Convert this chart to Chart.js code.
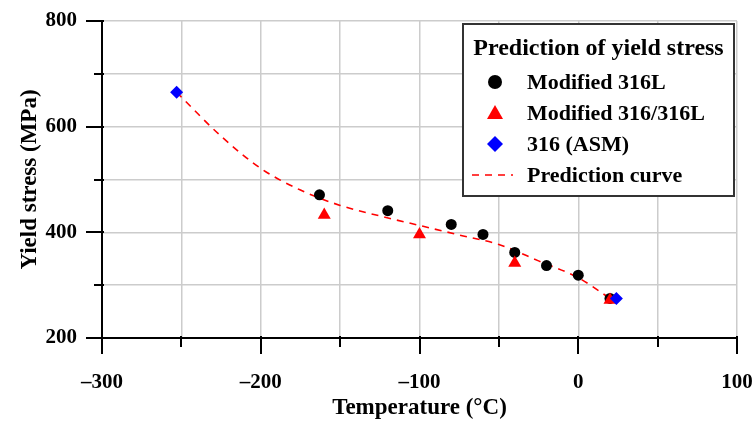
<!DOCTYPE html>
<html>
<head>
<meta charset="utf-8">
<script src="https://cdn.jsdelivr.net/npm/chart.js@4"></script>
<style>
  html, body { margin: 0; padding: 0; background: #fff; }
  #wrap { width: 754px; height: 423px; }
</style>
</head>
<body>
<div id="wrap"><canvas id="yieldChart" width="754" height="423"></canvas></div>
<script>
// Yield stress vs temperature
const mod316LTemp = [-163, -120, -80, -60, -40, -20, 0, 20];
const mod316LStress = [471, 441, 415, 396, 362, 337, 319, 275];

const mod316Temp = [-160, -100, -40, 20];
const mod316Stress = [433, 396, 342, 272];

const asmTemp = [-253, 24];
const asmStress = [665, 275];

const curveTemp = [-253, -225, -200, -175, -150, -125, -100, -75, -50, -25, 0, 20];
const curveStress = [665, 582, 521, 480, 451, 431, 413, 395, 377, 346, 314, 275];

const xTickLabels = [-300, -200, -100, 0, 100];
const yTickLabels = [200, 400, 600, 800];

const FONT = "'Liberation Serif', 'DejaVu Serif', serif";

function toPoints(xs, ys) {
    return xs.map((v, i) => ({ x: v, y: ys[i] }));
}

// draws the major/minor tick marks on the outside of the left and bottom axes
const axisTicks = {
    id: 'axisTicks',
    afterDraw(chart) {
        const { ctx, chartArea } = chart;
        const xs = chart.scales.x;
        const ys = chart.scales.y;
        ctx.save();
        ctx.strokeStyle = '#000';
        ctx.lineWidth = 2;
        xs.ticks.forEach(t => {
            const px = Math.round(xs.getPixelForValue(t.value));
            const len = xTickLabels.includes(t.value) ? 16 : 9;
            ctx.beginPath();
            ctx.moveTo(px, chartArea.bottom - 2);
            ctx.lineTo(px, chartArea.bottom + len);
            ctx.stroke();
        });
        ys.ticks.forEach(t => {
            const py = Math.round(ys.getPixelForValue(t.value));
            const len = yTickLabels.includes(t.value) ? 16 : 8;
            ctx.beginPath();
            ctx.moveTo(chartArea.left + 2, py);
            ctx.lineTo(chartArea.left - len, py);
            ctx.stroke();
        });
        ctx.restore();
    }
};

// legend box in the top right corner of the plot
const boxLegend = {
    id: 'boxLegend',
    afterDraw(chart) {
        const { ctx, chartArea } = chart;
        const w = 271, h = 172;
        const left = chartArea.right - w - 3;
        const top = chartArea.top + 3;
        ctx.save();
        ctx.fillStyle = '#fff';
        ctx.fillRect(left, top, w, h);
        ctx.strokeStyle = '#333';
        ctx.lineWidth = 2;
        ctx.strokeRect(left, top, w, h);

        ctx.fillStyle = '#000';
        ctx.font = 'bold 24px ' + FONT;
        ctx.textAlign = 'center';
        ctx.textBaseline = 'alphabetic';
        ctx.fillText('Prediction of yield stress', left + w / 2, top + 31);

        const items = [
            { label: 'Modified 316L', kind: 'circle' },
            { label: 'Modified 316/316L', kind: 'triangle' },
            { label: '316 (ASM)', kind: 'diamond' },
            { label: 'Prediction curve', kind: 'line' }
        ];
        const mx = left + 32;
        const tx = left + 64;
        ctx.font = 'bold 22px ' + FONT;
        ctx.textAlign = 'left';
        items.forEach((it, i) => {
            const cy = top + 58 + i * 31;
            if (it.kind === 'circle') {
                ctx.fillStyle = '#000';
                ctx.beginPath();
                ctx.arc(mx, cy, 7, 0, Math.PI * 2);
                ctx.fill();
            } else if (it.kind === 'triangle') {
                ctx.fillStyle = '#ff0000';
                ctx.beginPath();
                ctx.moveTo(mx, cy - 8);
                ctx.lineTo(mx + 8, cy + 6);
                ctx.lineTo(mx - 8, cy + 6);
                ctx.closePath();
                ctx.fill();
            } else if (it.kind === 'diamond') {
                ctx.fillStyle = '#0000ff';
                ctx.beginPath();
                ctx.moveTo(mx, cy - 8);
                ctx.lineTo(mx + 8, cy);
                ctx.lineTo(mx, cy + 8);
                ctx.lineTo(mx - 8, cy);
                ctx.closePath();
                ctx.fill();
            } else {
                ctx.strokeStyle = '#ff0000';
                ctx.lineWidth = 1.5;
                ctx.setLineDash([7, 6]);
                ctx.beginPath();
                ctx.moveTo(mx - 23, cy);
                ctx.lineTo(mx + 18, cy);
                ctx.stroke();
                ctx.setLineDash([]);
            }
            ctx.fillStyle = '#000';
            ctx.fillText(it.label, tx, cy + 7);
        });
        ctx.restore();
    }
};

const ctx = document.getElementById('yieldChart');
new Chart(ctx, {
    type: 'scatter',
    data: {
        datasets: [
            {
                label: '316 (ASM)',
                data: toPoints(asmTemp, asmStress),
                pointStyle: 'rectRot',
                pointRadius: 6.5,
                backgroundColor: '#0000ff',
                borderColor: '#0000ff',
                borderWidth: 0,
                order: 1
            },
            {
                label: 'Modified 316/316L',
                data: toPoints(mod316Temp, mod316Stress),
                pointStyle: 'triangle',
                pointRadius: 7.5,
                backgroundColor: '#ff0000',
                borderColor: '#ff0000',
                borderWidth: 0,
                order: 2
            },
            {
                label: 'Modified 316L',
                data: toPoints(mod316LTemp, mod316LStress),
                pointStyle: 'circle',
                pointRadius: 5.5,
                backgroundColor: '#000',
                borderColor: '#000',
                borderWidth: 0,
                order: 3
            },
            {
                type: 'line',
                label: 'Prediction curve',
                data: toPoints(curveTemp, curveStress),
                borderColor: '#ff0000',
                borderWidth: 1.6,
                borderDash: [7, 6],
                pointRadius: 0,
                fill: false,
                cubicInterpolationMode: 'monotone',
                order: 4
            }
        ]
    },
    options: {
        responsive: false,
        animation: false,
        layout: {
            padding: { top: 21, right: 17, left: 0, bottom: 0 }
        },
        plugins: {
            legend: { display: false },
            tooltip: { enabled: false }
        },
        scales: {
            x: {
                type: 'linear',
                min: -300,
                max: 100,
                afterFit: function(scale) {
                    scale.height = 85;
                    scale.paddingLeft = 0;
                    scale.paddingRight = 0;
                },
                border: { color: '#000', width: 2 },
                grid: {
                    color: '#cccccc',
                    lineWidth: 1.5,
                    drawTicks: false
                },
                ticks: {
                    stepSize: 50,
                    padding: 32,
                    color: '#000',
                    maxRotation: 0,
                    autoSkip: false,
                    font: { family: FONT, size: 21, weight: 'bold' },
                    callback: function(value) {
                        return xTickLabels.includes(value) ? String(value).replace('-', '\u2013') : '';
                    }
                },
                title: {
                    display: true,
                    text: 'Temperature (\u00b0C)',
                    color: '#000',
                    padding: { top: 0, bottom: 1 },
                    font: { family: FONT, size: 23, weight: 'bold' }
                }
            },
            y: {
                min: 200,
                max: 800,
                afterFit: function(scale) {
                    scale.width = 102;
                    scale.paddingTop = 0;
                    scale.paddingBottom = 0;
                },
                border: { color: '#000', width: 2 },
                grid: {
                    color: '#cccccc',
                    lineWidth: 1.5,
                    drawTicks: false
                },
                ticks: {
                    stepSize: 100,
                    padding: 25,
                    color: '#000',
                    autoSkip: false,
                    font: { family: FONT, size: 21, weight: 'bold' },
                    callback: function(value) {
                        return yTickLabels.includes(value) ? String(value) : '';
                    }
                },
                title: {
                    display: true,
                    text: 'Yield stress (MPa)',
                    color: '#000',
                    padding: { top: 16, bottom: 0 },
                    font: { family: FONT, size: 23, weight: 'bold' }
                }
            }
        }
    },
    plugins: [axisTicks, boxLegend]
});
</script>
</body>
</html>
